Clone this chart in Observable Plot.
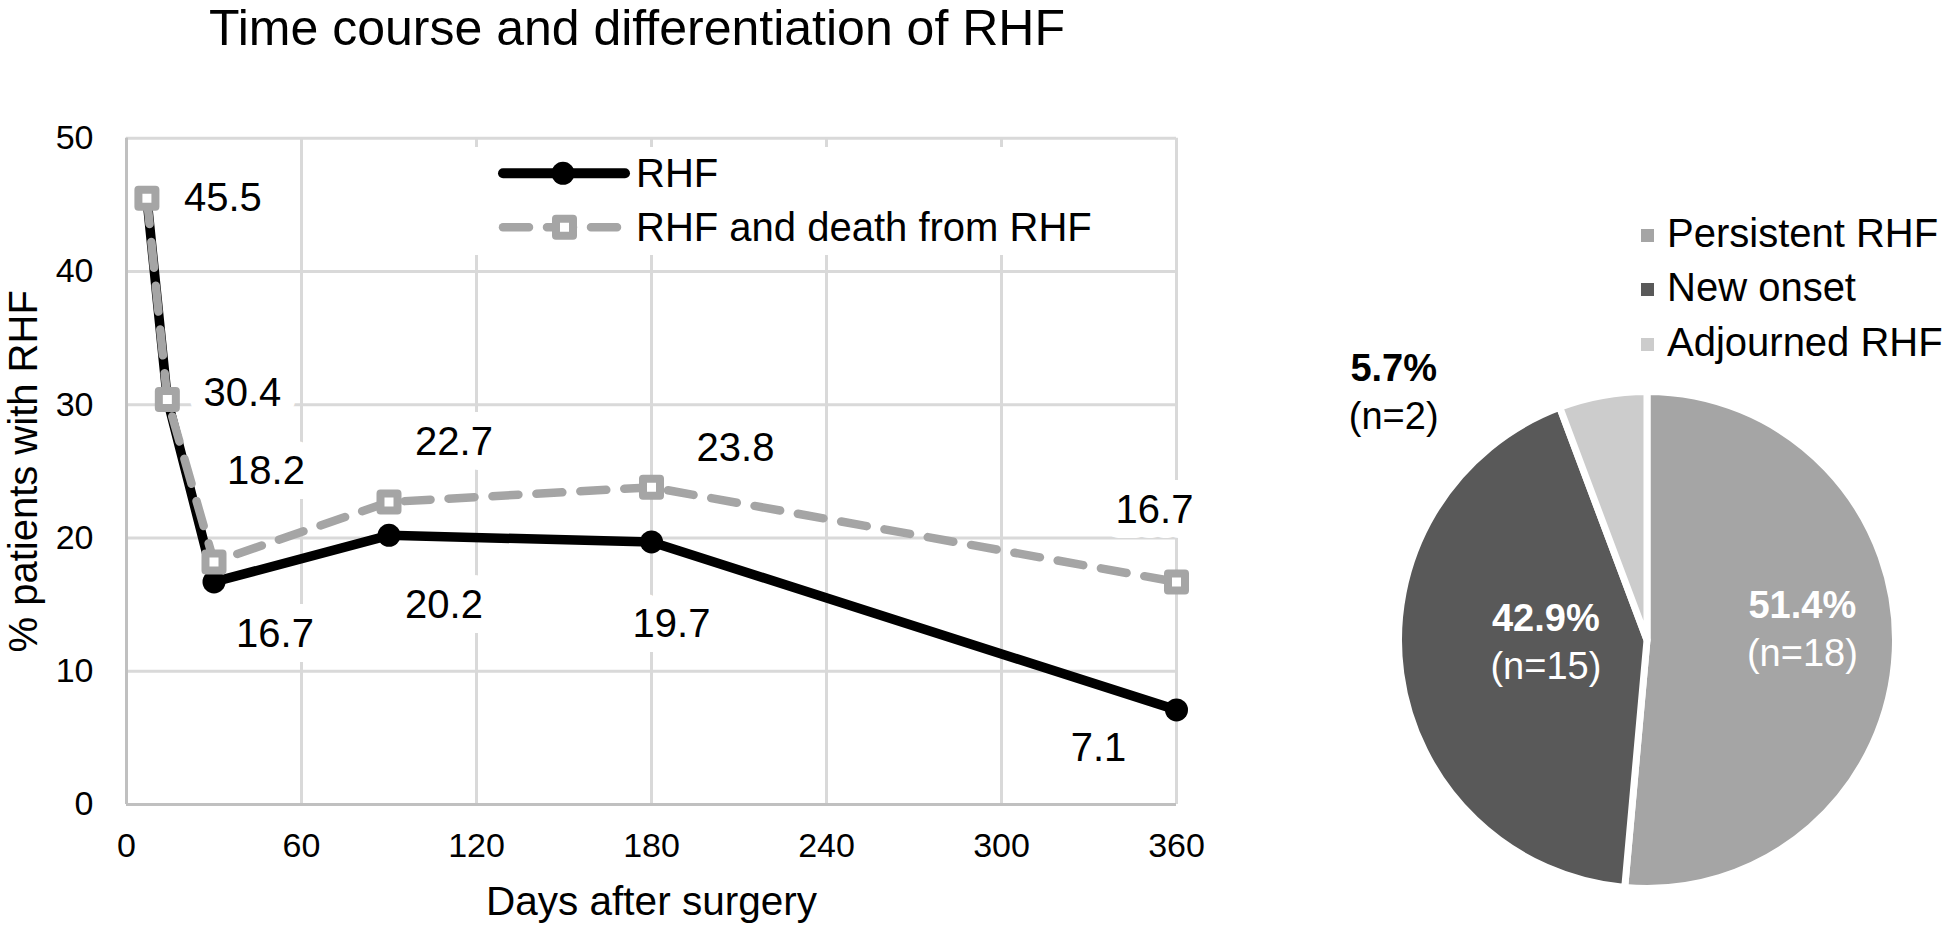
<!DOCTYPE html>
<html>
<head>
<meta charset="utf-8">
<script src="https://cdn.jsdelivr.net/npm/d3@7"></script>
<script src="https://cdn.jsdelivr.net/npm/@observablehq/plot@0.6"></script>
<style>
html, body { margin: 0; padding: 0; background: #fff; }
#root { position: relative; width: 1946px; height: 927px; overflow: hidden; background: #fff;
  font-family: "Liberation Sans", Arial, sans-serif; color: #000; }
.abs { position: absolute; white-space: nowrap; }
</style>
</head>
<body>
<div id="root"></div>
<script>
// ---------------- data ----------------
const chartTitle = "Time course and differentiation of RHF";
const days = [7, 14, 30, 90, 180, 360];
const rhfValues = [45.5, 30.4, 16.7, 20.2, 19.7, 7.1];
const rhfDeathValues = [45.5, 30.4, 18.2, 22.7, 23.8, 16.7];
const seriesNames = ["RHF", "RHF and death from RHF"];
const xTickValues = [0, 60, 120, 180, 240, 300, 360];
const yTickValues = [0, 10, 20, 30, 40, 50];
const xLabel = "Days after surgery";
const yLabel = "% patients with RHF";
const pieCategories = ["Persistent RHF", "New onset", "Adjourned RHF"];
const pieCounts = [18, 15, 2];
const piePercentLabels = ["51.4%", "42.9%", "5.7%"];

// ---------------- styling / layout ----------------
const rhfLabelOffsets = [null, null, [61, 52], [55, 70], [20, 82], [-78, 38]];
const deathLabelOffsets = [[76, 0], [75, -6], [52, -91], [65, -60], [84, -39], [-22, -72]];
const pieColors = ["#a5a5a5", "#595959", "#cccccc"];
const pieTextColors = ["#ffffff", "#ffffff", "#000000"];
const pieLabelNudge = [[5, -17], [47, -18], [-227, -100]];
const FONT = "Liberation Sans, Arial, sans-serif";
const GRAY = "#a5a5a5";

const root = document.getElementById("root");

// ---------------- title ----------------
const title = document.createElement("div");
title.className = "abs";
title.style.cssText = "left:0;top:0;width:1274px;text-align:center;font-size:50px;line-height:56px;";
title.textContent = chartTitle;
root.appendChild(title);

// ---------------- line chart ----------------
const W1 = 1260, H1 = 927;
const rhfData = days.map((d, i) => ({day: d, value: rhfValues[i], off: rhfLabelOffsets[i]}));
const deathData = days.map((d, i) => ({day: d, value: rhfDeathValues[i], off: deathLabelOffsets[i]}));
const fmt = d3.format(".1f");
const labelMarks = [...rhfData, ...deathData].filter(d => d.off).map(d =>
  Plot.text([d], {
    x: "day", y: "value", text: v => fmt(v.value),
    dx: d.off[0], dy: d.off[1], fontSize: 40, fill: "#000",
    stroke: "#fff", strokeWidth: 30, strokeLinejoin: "round", paintOrder: "stroke"
  })
);

const lineChart = Plot.plot({
  width: W1, height: H1,
  marginTop: 137.7, marginBottom: H1 - 804, marginLeft: 126, marginRight: W1 - 1176,
  x: {domain: [0, 360]},
  y: {domain: [0, 50]},
  style: {fontFamily: FONT, fontSize: "34px", color: "#000", background: "transparent", overflow: "visible"},
  marks: [
    Plot.gridX(xTickValues.filter(d => d > 0), {stroke: "#d9d9d9", strokeOpacity: 1, strokeWidth: 3}),
    Plot.gridY(yTickValues.filter(d => d > 0), {stroke: "#d9d9d9", strokeOpacity: 1, strokeWidth: 3}),
    Plot.ruleX([0], {stroke: "#c0c0c0", strokeWidth: 3}),
    Plot.ruleY([0], {stroke: "#c0c0c0", strokeWidth: 3}),
    Plot.axisX(xTickValues, {tickSize: 0, tickPadding: 28, fontSize: 34, label: null, tickFormat: d => d}),
    Plot.axisY(yTickValues, {tickSize: 0, tickPadding: 33, fontSize: 34, label: null, tickFormat: d => d}),
    Plot.text([xLabel], {frameAnchor: "bottom", textAnchor: "middle", lineAnchor: "middle", dy: 98, fontSize: 40.5}),
    Plot.text([yLabel], {frameAnchor: "left", textAnchor: "middle", lineAnchor: "middle", rotate: -90, dx: -102, fontSize: 40}),
    ...labelMarks,
    Plot.line(rhfData, {x: "day", y: "value", stroke: "#000", strokeWidth: 9.5, strokeLinejoin: "round"}),
    Plot.dot(rhfData, {x: "day", y: "value", r: 11.5, fill: "#000"}),
    Plot.line(deathData, {x: "day", y: "value", stroke: GRAY, strokeWidth: 8.5,
      strokeDasharray: "26,18", strokeLinecap: "round", strokeLinejoin: "round"}),
    Plot.dot(deathData, {x: "day", y: "value", symbol: "square", r: 9.6, fill: "#fff",
      stroke: GRAY, strokeWidth: 8, strokeLinejoin: "round"})
  ]
});
lineChart.style.position = "absolute";
lineChart.style.left = "0px";
lineChart.style.top = "0px";
root.appendChild(lineChart);

// ---------------- line chart legend ----------------
const legW = 640, legH = 108;
const legDiv = document.createElement("div");
legDiv.className = "abs";
legDiv.style.cssText = `left:465px;top:147px;width:${legW}px;height:${legH}px;background:#fff;`;
root.appendChild(legDiv);
const legSvg = d3.select(legDiv).append("svg").attr("width", legW).attr("height", legH)
  .style("font-family", FONT).style("font-size", "40px");
const rows = [26.3, 80.3];
// RHF
legSvg.append("line").attr("x1", 38).attr("x2", 160).attr("y1", rows[0]).attr("y2", rows[0])
  .attr("stroke", "#000").attr("stroke-width", 10).attr("stroke-linecap", "round");
legSvg.append("circle").attr("cx", 98).attr("cy", rows[0]).attr("r", 11.5).attr("fill", "#000");
legSvg.append("text").attr("x", 171).attr("y", rows[0] + 14).text(seriesNames[0]);
// RHF and death
legSvg.append("line").attr("x1", 38).attr("x2", 160).attr("y1", rows[1]).attr("y2", rows[1])
  .attr("stroke", GRAY).attr("stroke-width", 8.5).attr("stroke-linecap", "round").attr("stroke-dasharray", "26,18");
legSvg.append("rect").attr("x", 99.5 - 8.5).attr("y", rows[1] - 8.5).attr("width", 17).attr("height", 17)
  .attr("fill", "#fff").attr("stroke", GRAY).attr("stroke-width", 8).attr("stroke-linejoin", "round");
legSvg.append("text").attr("x", 171).attr("y", rows[1] + 14).text(seriesNames[1]);

// ---------------- pie chart ----------------
const W2 = 686, OFF2 = 1260;
const pieCx = 1647 - OFF2, pieCy = 640, pieR = 248.5;
const arcs = d3.pie().sort(null).value(d => d)(pieCounts);
const arcGen = d3.arc().innerRadius(0).outerRadius(pieR);
const pieSlices = (index, scales) => {
  const g = d3.create("svg:g")
    .attr("transform", `translate(${scales.x(pieCx)},${scales.y(pieCy)})`);
  g.selectAll("path").data(arcs).join("path")
    .attr("d", arcGen)
    .attr("fill", (d, i) => pieColors[i])
    .attr("stroke", "#fff").attr("stroke-width", 7).attr("stroke-linejoin", "round");
  return g.node();
};
const pieLabelData = arcs.map((a, i) => {
  const mid = (a.startAngle + a.endAngle) / 2;
  return {
    x: pieCx + 150 * Math.sin(mid) + pieLabelNudge[i][0],
    y: pieCy - 150 * Math.cos(mid) + pieLabelNudge[i][1],
    pct: piePercentLabels[i], n: `(n=${pieCounts[i]})`, color: pieTextColors[i]
  };
});
const pieChart = Plot.plot({
  width: W2, height: H1, margin: 0,
  x: {type: "identity", axis: null},
  y: {type: "identity", axis: null},
  style: {fontFamily: FONT, background: "transparent", overflow: "visible"},
  marks: [
    pieSlices,
    Plot.text(pieLabelData, {x: "x", y: "y", text: "pct", dy: -24, fontSize: 38, fontWeight: "bold", fill: "color"}),
    Plot.text(pieLabelData, {x: "x", y: "y", text: "n", dy: 24, fontSize: 38, fill: "color"})
  ]
});
pieChart.style.position = "absolute";
pieChart.style.left = OFF2 + "px";
pieChart.style.top = "0px";
root.appendChild(pieChart);

// ---------------- pie legend ----------------
const pieLegendRows = [235, 289.5, 344];
pieCategories.forEach((c, i) => {
  const sq = document.createElement("div");
  sq.className = "abs";
  sq.style.cssText = `left:1640.5px;top:${pieLegendRows[i] - 6.5}px;width:13px;height:13px;background:${pieColors[i]};`;
  root.appendChild(sq);
  const tx = document.createElement("div");
  tx.className = "abs";
  tx.style.cssText = `left:1667px;top:${pieLegendRows[i] + 11.7 - 33.9}px;font-size:40px;line-height:40px;`;
  tx.textContent = c;
  root.appendChild(tx);
});
</script>
</body>
</html>
